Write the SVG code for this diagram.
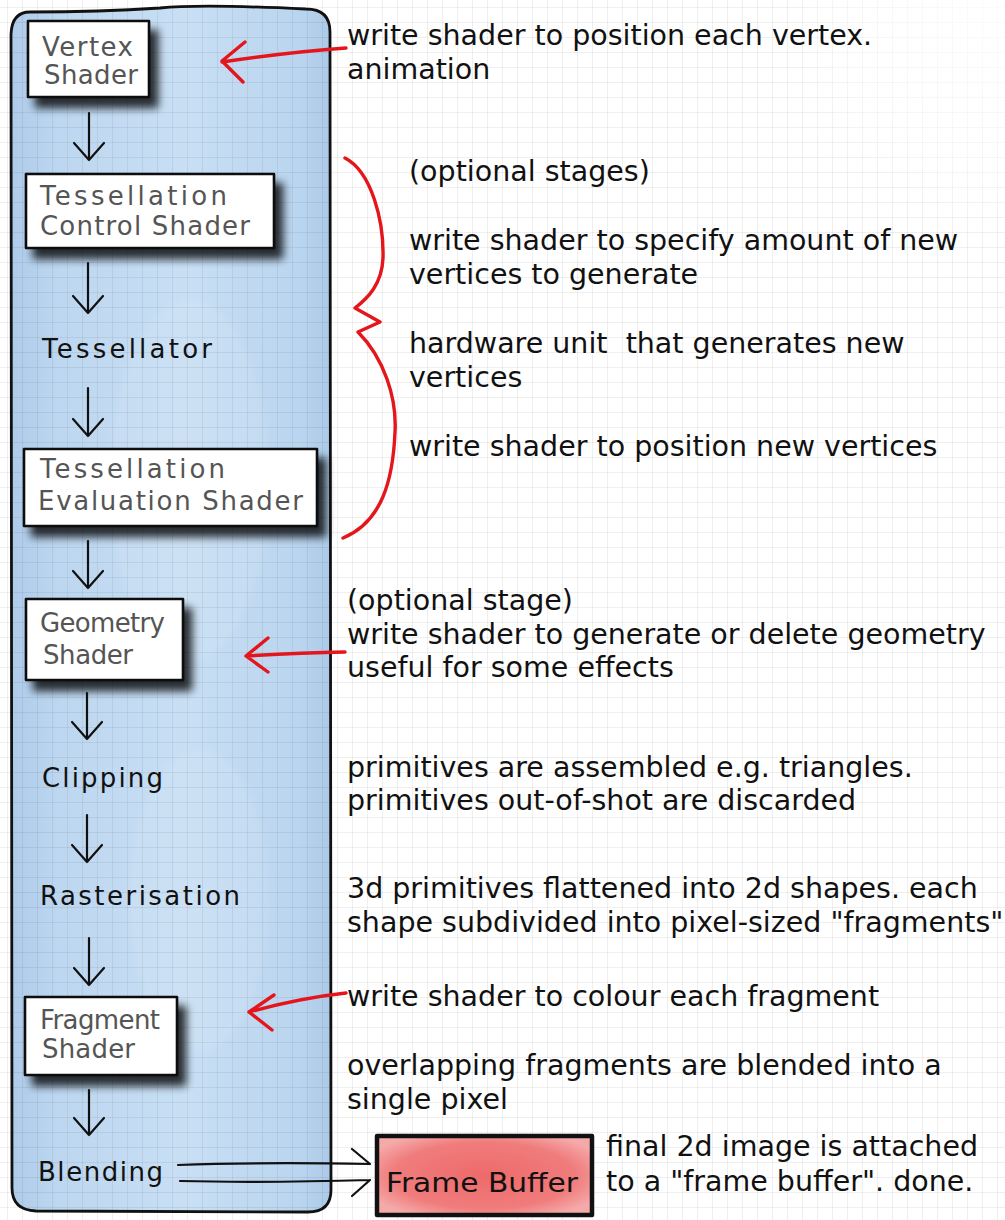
<svg xmlns="http://www.w3.org/2000/svg" width="1005" height="1220" viewBox="0 0 1005 1220">
<defs>
  <pattern id="grid" x="7" y="7" width="15" height="15" patternUnits="userSpaceOnUse">
    <path d="M15,0 L0,0 L0,15" fill="none" stroke="#000" stroke-opacity="0.12" stroke-width="1"/>
  </pattern>
  <linearGradient id="blue" x1="0" y1="0" x2="1" y2="0">
    <stop offset="0" stop-color="#aecbea"/>
    <stop offset="0.15" stop-color="#bdd7f0"/>
    <stop offset="0.55" stop-color="#c8dff4"/>
    <stop offset="0.9" stop-color="#bad5ef"/>
    <stop offset="1" stop-color="#abc9e8"/>
  </linearGradient>
  <radialGradient id="red" cx="0.5" cy="0.5" r="0.6">
    <stop offset="0" stop-color="#ee6a6a"/>
    <stop offset="0.7" stop-color="#f07c7c"/>
    <stop offset="1" stop-color="#f5aaaa"/>
  </radialGradient>
  <radialGradient id="fade" cx="1" cy="0" r="1">
    <stop offset="0" stop-color="#fff" stop-opacity="1"/>
    <stop offset="0.6" stop-color="#fff" stop-opacity="0.6"/>
    <stop offset="1" stop-color="#fff" stop-opacity="0"/>
  </radialGradient>
  <filter id="shadow" x="-20%" y="-20%" width="160%" height="180%">
    <feGaussianBlur in="SourceAlpha" stdDeviation="4.5"/>
    <feOffset dx="8" dy="10" result="b"/>
    <feComponentTransfer><feFuncA type="linear" slope="0.8"/></feComponentTransfer>
    <feMerge><feMergeNode/><feMergeNode in="SourceGraphic"/></feMerge>
  </filter>
  <filter id="soft" x="-10%" y="-10%" width="120%" height="120%">
    <feGaussianBlur stdDeviation="3"/>
  </filter>
</defs>
<style>
  .box { fill: #fff; stroke: #111; stroke-width: 2.6; stroke-linejoin: round; }
  .hw { font-family: "DejaVu Sans", "Liberation Sans", sans-serif; font-size: 26px; fill: #555; }
  .hwb { font-family: "DejaVu Sans", "Liberation Sans", sans-serif; font-size: 26px; fill: #111; }
  .txt { font-family: "DejaVu Sans", sans-serif; font-size: 28.5px; fill: #111; white-space: pre; }
  .arr { fill: none; stroke: #111; stroke-width: 2.2; stroke-linecap: round; stroke-linejoin: round; }
  .red { fill: none; stroke: #e4161c; stroke-width: 3.4; stroke-linecap: round; stroke-linejoin: round; }
</style>

<!-- background -->
<rect x="0" y="0" width="1005" height="1220" fill="#fff"/>
<g id="panel">
  <path d="M30,12 Q12,12 11,34 L12,1188 Q12,1210 36,1211 L308,1212 Q331,1212 331,1190 L330,32 Q330,9 306,9 Q200,4 160,8 Q100,12 30,12 Z" fill="url(#blue)"/>
  <ellipse cx="190" cy="480" rx="80" ry="180" fill="#ffffff" opacity="0.08" filter="url(#soft)"/>
  <ellipse cx="200" cy="900" rx="70" ry="150" fill="#ffffff" opacity="0.08" filter="url(#soft)"/>
</g>
<rect x="0" y="0" width="1005" height="1220" fill="url(#grid)"/>
<rect x="760" y="0" width="245" height="260" fill="url(#fade)" opacity="0.8"/>
<path d="M30,12 Q12,12 11,34 L12,1188 Q12,1210 36,1211 L308,1212 Q331,1212 331,1190 L330,32 Q330,9 306,9 Q200,4 160,8 Q100,12 30,12 Z" fill="none" stroke="#111" stroke-width="2.8"/>

<!-- nodes -->
<g id="vertex-shader">
  <rect class="box" x="28" y="21" width="121" height="76" filter="url(#shadow)"/>
  <text class="hw" x="42" y="56" textLength="91" lengthAdjust="spacing">Vertex</text>
  <text class="hw" x="44" y="84" textLength="94" lengthAdjust="spacing">Shader</text>
</g>
<g id="tess-control">
  <rect class="box" x="26" y="174" width="248" height="74" filter="url(#shadow)"/>
  <text class="hw" x="40" y="205" textLength="187" lengthAdjust="spacing">Tessellation</text>
  <text class="hw" x="40" y="235" textLength="210" lengthAdjust="spacing">Control Shader</text>
</g>
<g id="tessellator">
  <text class="hwb" x="42" y="358" textLength="170" lengthAdjust="spacing">Tessellator</text>
</g>
<g id="tess-eval">
  <rect class="box" x="24" y="449" width="293" height="77" filter="url(#shadow)"/>
  <text class="hw" x="40" y="478" textLength="185" lengthAdjust="spacing">Tessellation</text>
  <text class="hw" x="38" y="510" textLength="265" lengthAdjust="spacing">Evaluation Shader</text>
</g>
<g id="geometry-shader">
  <rect class="box" x="26" y="599" width="157" height="81" filter="url(#shadow)"/>
  <text class="hw" x="40" y="632" font-size="25" textLength="125" lengthAdjust="spacing">Geometry</text>
  <text class="hw" x="43" y="664" font-size="25" textLength="90" lengthAdjust="spacing">Shader</text>
</g>
<g id="clipping">
  <text class="hwb" x="42" y="787" textLength="121" lengthAdjust="spacing">Clipping</text>
</g>
<g id="rasterisation">
  <text class="hwb" x="40" y="905" textLength="200" lengthAdjust="spacing">Rasterisation</text>
</g>
<g id="fragment-shader">
  <rect class="box" x="25" y="997" width="152" height="78" filter="url(#shadow)"/>
  <text class="hw" x="40" y="1029" textLength="120" lengthAdjust="spacing">Fragment</text>
  <text class="hw" x="42" y="1058" textLength="93" lengthAdjust="spacing">Shader</text>
</g>
<g id="blending">
  <text class="hwb" x="38" y="1181" textLength="125" lengthAdjust="spacing">Blending</text>
</g>
<g id="frame-buffer">
  <rect x="377" y="1136" width="215" height="79" fill="url(#red)" stroke="#111" stroke-width="4.5" stroke-linejoin="round"/>
  <text class="hwb" x="386" y="1192" font-size="33" textLength="192" lengthAdjust="spacingAndGlyphs">Frame Buffer</text>
</g>

<!-- connectors -->
<g id="connectors">
  <path class="arr" d="M89,113 L89,160 M74,143 L89,160 L104,143"/>
  <path class="arr" d="M88,263 L88,313 M73,296 L88,313 L103,296"/>
  <path class="arr" d="M88,388 L88,436 M73,419 L88,436 L103,419"/>
  <path class="arr" d="M88,541 L88,588 M73,571 L88,588 L103,571"/>
  <path class="arr" d="M87,693 L87,739 M72,722 L87,739 L102,722"/>
  <path class="arr" d="M87,815 L87,862 M72,845 L87,862 L102,845"/>
  <path class="arr" d="M89,938 L89,985 M74,968 L89,985 L104,968"/>
  <path class="arr" d="M89,1090 L89,1135 M74,1118 L89,1135 L104,1118"/>
  <!-- blending double arrow -->
  <path class="arr" d="M178,1165 Q260,1162 370,1164 M352,1149 L370,1164"/>
  <path class="arr" d="M180,1181 Q260,1183 370,1180 M370,1180 L352,1196"/>
  <!-- red annotation arrows -->
  <path class="red" d="M346,48 Q290,52 222,62 M245,42 L222,61 L243,82"/>
  <path class="red" d="M345,652 Q300,653 246,656 M268,638 L246,656 L268,672"/>
  <path class="red" d="M346,993 Q300,998 249,1012 M274,995 L249,1012 L272,1030"/>
  <!-- brace -->
  <path class="red" d="M345,158 C372,172 384,222 383,258 C382,284 368,298 355,308 L380,322 L358,332 C384,358 397,398 395,432 C393,480 382,522 343,538"/>
</g>

<!-- annotations -->
<g id="notes">
  <text class="txt" x="347" y="45">write shader to position each vertex.</text>
  <text class="txt" x="347" y="79">animation</text>
  <text class="txt" x="409" y="181">(optional stages)</text>
  <text class="txt" x="409" y="250">write shader to specify amount of new</text>
  <text class="txt" x="409" y="284">vertices to generate</text>
  <text class="txt" x="409" y="353">hardware unit  that generates new</text>
  <text class="txt" x="409" y="387">vertices</text>
  <text class="txt" x="409" y="456">write shader to position new vertices</text>
  <text class="txt" x="347" y="610">(optional stage)</text>
  <text class="txt" x="347" y="644">write shader to generate or delete geometry</text>
  <text class="txt" x="347" y="677">useful for some effects</text>
  <text class="txt" x="347" y="777">primitives are assembled e.g. triangles.</text>
  <text class="txt" x="347" y="810">primitives out-of-shot are discarded</text>
  <text class="txt" x="347" y="898">3d primitives flattened into 2d shapes. each</text>
  <text class="txt" x="347" y="932">shape subdivided into pixel-sized "fragments"</text>
  <text class="txt" x="347" y="1006">write shader to colour each fragment</text>
  <text class="txt" x="347" y="1075">overlapping fragments are blended into a</text>
  <text class="txt" x="347" y="1109">single pixel</text>
  <text class="txt" x="606" y="1156">final 2d image is attached</text>
  <text class="txt" x="606" y="1191">to a "frame buffer". done.</text>
</g>
</svg>
